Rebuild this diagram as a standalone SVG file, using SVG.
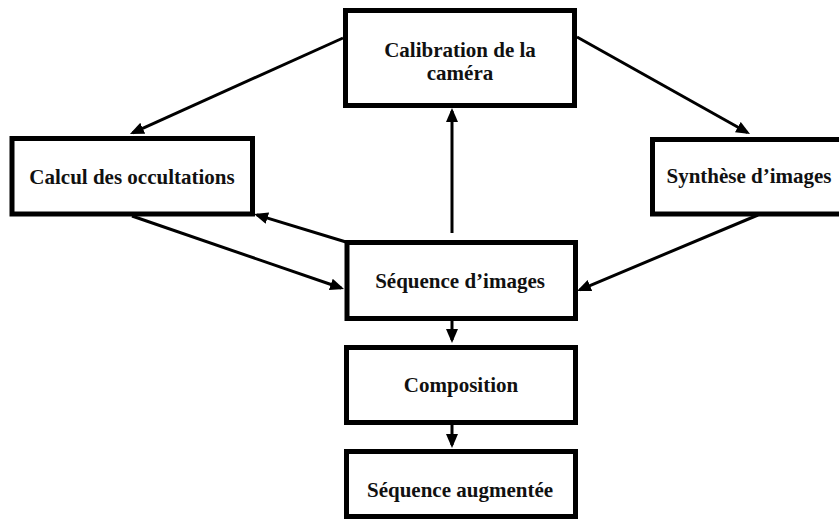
<svg xmlns="http://www.w3.org/2000/svg" width="839" height="520" viewBox="0 0 839 520">
<style>
.box{fill:#fff;stroke:#000;stroke-width:5}
.lbl{font-family:"Liberation Serif","Times New Roman",serif;font-weight:bold;font-size:21px;fill:#111;text-anchor:middle}
.con{stroke:#000;stroke-width:3;fill:none;marker-end:url(#ah)}
</style>
<defs>
<marker id="ah" viewBox="0 0 14 12" refX="11" refY="6" markerWidth="14" markerHeight="12" markerUnits="userSpaceOnUse" orient="auto">
<path d="M0,0 L14,6 L0,12 Z" fill="#000"/>
</marker>
</defs>
<rect width="839" height="520" fill="#fff"/>
<g id="connectors">
<line class="con" x1="452" y1="233" x2="452" y2="111"/>
<line class="con" x1="343" y1="38" x2="132.7" y2="132.8"/>
<line class="con" x1="577" y1="37" x2="747.4" y2="132.5"/>
<line class="con" x1="132" y1="216" x2="341.2" y2="288"/>
<line class="con" x1="346" y1="242" x2="256.9" y2="214.9"/>
<line class="con" x1="758" y1="215" x2="579.8" y2="289.8"/>
<line class="con" x1="452" y1="321" x2="452" y2="340"/>
<line class="con" x1="452" y1="425" x2="452" y2="445"/>
</g>
<g id="calibration">
<rect class="box" x="345.5" y="10.5" width="229" height="95"/>
<text class="lbl" x="460" y="57">Calibration de la</text>
<text class="lbl" x="460" y="80">caméra</text>
</g>
<g id="occultations">
<rect class="box" x="12" y="138.5" width="240.5" height="75.5"/>
<text class="lbl" x="132" y="184">Calcul des occultations</text>
</g>
<g id="synthese">
<rect class="box" x="652.5" y="139.5" width="193" height="74.5"/>
<text class="lbl" x="749" y="183">Synthèse d’images</text>
</g>
<g id="sequence">
<rect class="box" x="347" y="242.5" width="228.5" height="76"/>
<text class="lbl" x="460" y="288">Séquence d’images</text>
</g>
<g id="composition">
<rect class="box" x="346.5" y="347.5" width="229" height="75"/>
<text class="lbl" x="461" y="392">Composition</text>
</g>
<g id="augmentee">
<rect class="box" x="346.5" y="451.5" width="229" height="65"/>
<text class="lbl" x="460" y="497">Séquence augmentée</text>
</g>
</svg>
